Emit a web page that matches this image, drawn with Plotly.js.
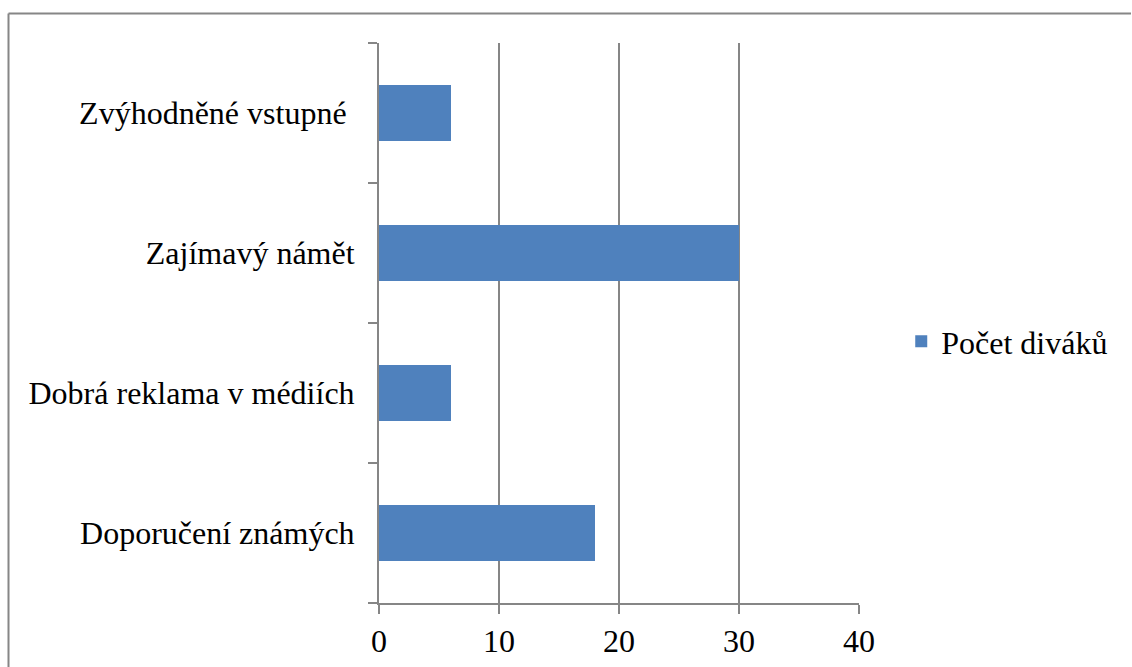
<!DOCTYPE html>
<html>
<head>
<meta charset="utf-8">
<script src="https://cdn.plot.ly/plotly-3.0.1.min.js"></script>
<style>
html,body{margin:0;padding:0;background:#fff;}
#chart{width:1132px;height:667px;}
</style>
</head>
<body>
<div id="chart"></div>
<script>
// Data (bottom to top)
const categories = ["Doporučení známých", "Dobrá reklama v médiích", "Zajímavý námět", "Zvýhodněné vstupné "];
const values = [18, 6, 30, 6];
const seriesName = "Počet diváků";
const xTicks = [0, 10, 20, 30, 40];

const gridColor = "#868686";
const fontFam = "Times New Roman, Liberation Serif, DejaVu Serif, serif";

const trace = {
  type: "bar",
  orientation: "h",
  x: values,
  y: categories,
  name: seriesName,
  marker: {color: "#4F81BD"},
  showlegend: true
};

const layout = {
  width: 1132,
  height: 667,
  margin: {l: 379, r: 273, t: 43, b: 64},
  paper_bgcolor: "#fff",
  plot_bgcolor: "#fff",
  font: {family: fontFam, size: 32, color: "#000"},
  bargap: 0.6,
  showlegend: true,
  legend: {
    x: 1.088, y: 0.467, xanchor: "left", yanchor: "middle",
    font: {family: fontFam, size: 32, color: "#000"},
    itemwidth: 30
  },
  xaxis: {
    range: [0, 40],
    tickvals: xTicks,
    ticktext: xTicks.map(String),
    showgrid: true,
    gridcolor: gridColor,
    gridwidth: 2,
    zeroline: false,
    showline: true,
    linecolor: gridColor,
    linewidth: 2,
    ticks: "outside",
    ticklen: 9,
    tickwidth: 2,
    tickcolor: gridColor,
    tickfont: {family: fontFam, size: 32, color: "#000"},
    fixedrange: true
  },
  yaxis: {
    type: "category",
    categoryorder: "array",
    categoryarray: categories,
    showgrid: false,
    zeroline: false,
    showline: true,
    linecolor: gridColor,
    linewidth: 2,
    ticks: "outside",
    tickson: "boundaries",
    ticklen: 9,
    tickwidth: 2,
    tickcolor: gridColor,
    ticklabelstandoff: 16,
    tickfont: {family: fontFam, size: 32, color: "#000"},
    fixedrange: true
  },
  shapes: [
    {type: "line", xref: "paper", yref: "paper",
     x0: (8.5 - 379) / 480, x1: (8.5 - 379) / 480,
     y0: (603 - 13.5) / 560, y1: (603 - 700) / 560,
     line: {color: gridColor, width: 2}},
    {type: "line", xref: "paper", yref: "paper",
     x0: (8.5 - 379) / 480, x1: (1131 - 379) / 480,
     y0: (603 - 13.5) / 560, y1: (603 - 13.5) / 560,
     line: {color: gridColor, width: 2}}
  ]
};

Plotly.newPlot("chart", [trace], layout, {displayModeBar: false, staticPlot: true});
</script>
</body>
</html>
